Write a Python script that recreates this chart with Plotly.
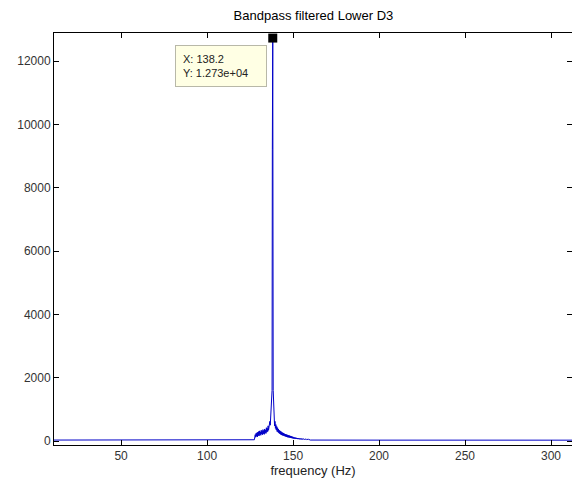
import plotly.graph_objects as go

# frequency (Hz) and amplitude, written line by line in matching chunks
freq = [11, 30, 60, 90, 110, 120, 127, 127.5,
        128, 128.25, 128.5, 128.75, 129, 129.25, 129.5, 129.75,
        130, 130.25, 130.5, 130.75, 131, 131.25, 131.5, 131.75,
        132, 132.25, 132.5, 132.75, 133, 133.25, 133.5, 133.75,
        134, 134.25, 134.5, 134.75, 135, 135.25, 135.5, 135.75,
        136, 136.25, 136.5, 136.75, 137, 137.25, 137.5,
        137.8, 137.95, 138.2, 138.45, 138.7,
        139, 139.25, 139.5, 139.75, 140, 140.25, 140.5, 140.75,
        141, 141.25, 141.5, 141.75, 142, 142.25, 142.5, 142.75,
        143, 143.25, 143.5, 143.75, 144, 144.25, 144.5, 144.75,
        145, 145.25, 145.5, 145.75, 146, 146.25, 146.5, 146.75,
        147, 147.25, 147.5, 147.75, 148, 148.25, 148.5, 148.75,
        149, 149.25, 149.5, 149.75, 150, 150.25, 150.5, 150.75,
        151, 151.25, 151.5, 151.75, 152, 152.25, 152.5, 152.75,
        153, 153.25, 153.5, 153.75, 154, 154.25, 154.5, 154.75,
        155, 155.25, 155.5, 155.75, 156, 156.25, 156.5, 156.75,
        157, 157.25, 157.5, 157.75, 158, 158.25, 158.5, 158.75,
        159, 159.25, 159.5, 159.75,
        160, 200, 250, 300, 313]
amp = [30, 28, 25, 30, 28, 32, 35, 40,
       200, 120, 240, 150, 260, 130, 280, 170,
       300, 160, 320, 200, 290, 180, 340, 220,
       310, 200, 360, 230, 330, 210, 380, 250,
       350, 240, 420, 280, 400, 300, 480, 340,
       520, 400, 620, 500, 760, 650, 1000,
       1600, 9200, 12730, 1600, 950,
       700, 480, 620, 400, 520, 350, 460, 300,
       420, 280, 380, 250, 340, 230, 320, 210,
       300, 190, 280, 180, 260, 170, 250, 160,
       230, 150, 220, 140, 210, 130, 200, 120,
       190, 115, 180, 110, 170, 100, 160, 95,
       150, 90, 140, 85, 130, 80, 120, 75,
       110, 70, 105, 65, 100, 65, 95, 60,
       90, 60, 85, 55, 80, 55, 78, 52,
       75, 50, 72, 50, 70, 48, 68, 48,
       65, 46, 62, 45, 60, 45, 58, 44,
       55, 42, 50, 40,
       30, 28, 25, 28, 27]

peak_x = [138.2]
peak_y = [12730]
x_ticks = [50, 100, 150, 200, 250, 300]
y_ticks = [0, 2000, 4000, 6000, 8000, 10000, 12000]

font_family = "Liberation Sans, Arial, sans-serif"

fig = go.Figure()
fig.add_trace(go.Scatter(x=freq, y=amp, mode="lines",
                         line=dict(color="#0000c8", width=1), hoverinfo="skip"))
fig.add_trace(go.Scatter(x=peak_x, y=peak_y, mode="markers",
                         marker=dict(symbol="square", size=9, color="black"),
                         hoverinfo="skip"))

fig.add_annotation(x=peak_x[0], y=peak_y[0], xref="x", yref="y",
                   text="X: 138.2<br>Y: 1.273e+04", showarrow=False,
                   xanchor="right", yanchor="top", xshift=-6, yshift=-7,
                   align="left", bgcolor="#ffffe4", bordercolor="#b8b8a8",
                   borderwidth=1, borderpad=7, width=76,
                   font=dict(family=font_family, size=11, color="#222"))

axis_common = dict(showline=True, linecolor="black", linewidth=1, mirror="ticks",
                   ticks="inside", ticklen=5, tickcolor="black", showgrid=False,
                   zeroline=False, tickformat="d",
                   tickfont=dict(family=font_family, size=12, color="#333"))

fig.update_layout(
    width=572, height=488,
    margin=dict(l=54, r=0, t=33, b=43),
    paper_bgcolor="white", plot_bgcolor="white",
    showlegend=False,
    title=dict(text="Bandpass filtered Lower D3", x=0.548, xanchor="center",
               y=0.969, yanchor="middle", yref="container",
               font=dict(family=font_family, size=13, color="black")),
    xaxis=dict(range=[11, 312.2], tickvals=x_ticks,
               title=dict(text="frequency (Hz)", standoff=3,
                          font=dict(family=font_family, size=13, color="#222")),
               **axis_common),
    yaxis=dict(range=[-126, 12890], tickvals=y_ticks, **axis_common),
)

fig.write_html("out.html")
